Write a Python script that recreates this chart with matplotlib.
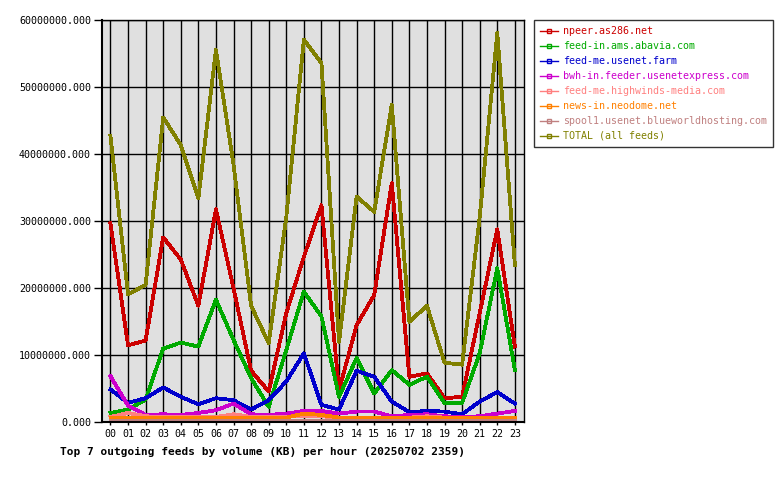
import matplotlib
matplotlib.use("Agg")
import matplotlib.pyplot as plt
from matplotlib.lines import Line2D
from matplotlib.ticker import FormatStrFormatter

# ----------------- DATA (KB per hour) -----------------
hours = [f"{h:02d}" for h in range(24)]

feed_names = [
    "npeer.as286.net",
    "feed-in.ams.abavia.com",
    "feed-me.usenet.farm",
    "bwh-in.feeder.usenetexpress.com",
    "feed-me.highwinds-media.com",
    "news-in.neodome.net",
    "spool1.usenet.blueworldhosting.com",
    "TOTAL (all feeds)",
]

npeer = [29.7, 11.5, 12.2, 27.6, 24.3, 17.4, 31.8, 20.0, 7.7, 4.6, 16.3, 24.7,
         32.4, 4.8, 14.5, 19.0, 35.7, 6.8, 7.3, 3.6, 3.8, 16.3, 28.8, 11.3]
abavia = [1.4, 1.9, 3.4, 11.0, 11.9, 11.3, 18.3, 12.3, 6.6, 2.3, 10.8, 19.5,
          15.8, 3.8, 9.6, 4.3, 7.8, 5.6, 6.8, 2.9, 2.9, 10.3, 23.0, 7.8]
usenetfarm = [4.9, 2.9, 3.6, 5.2, 3.8, 2.7, 3.6, 3.3, 1.9, 3.3, 6.1, 10.3,
              2.6, 1.9, 7.7, 6.8, 3.1, 1.5, 1.7, 1.6, 1.2, 3.1, 4.5, 2.8]
bwh = [6.9, 2.5, 1.1, 1.2, 1.1, 1.4, 1.8, 2.8, 1.2, 1.1, 1.3, 1.7,
       1.7, 1.3, 1.6, 1.6, 0.9, 1.1, 1.2, 0.9, 0.8, 0.9, 1.3, 1.7]
highwinds = [0.8, 1.4, 0.9, 0.8, 0.8, 0.8, 0.8, 1.2, 0.8, 0.8, 0.8, 1.0,
             0.9, 0.7, 0.7, 0.7, 0.7, 0.7, 0.9, 0.7, 0.7, 0.7, 0.7, 0.7]
neodome = [0.6, 0.6, 0.6, 0.6, 0.6, 0.6, 0.6, 0.6, 0.6, 0.6, 0.7, 1.3,
           1.1, 0.7, 0.6, 0.6, 0.6, 0.6, 0.6, 0.6, 0.6, 0.6, 0.6, 0.6]
blueworld = [0.3, 0.3, 0.3, 0.3, 0.3, 0.3, 0.3, 0.3, 0.3, 0.3, 0.3, 0.3,
             0.3, 0.3, 0.3, 0.3, 0.3, 0.3, 0.3, 0.3, 0.3, 0.3, 0.3, 0.3]
total = [42.8, 19.1, 20.5, 45.5, 41.4, 33.4, 55.6, 38.5, 17.4, 11.8, 30.6, 57.1,
         53.6, 12.0, 33.7, 31.4, 47.4, 15.0, 17.4, 8.9, 8.6, 30.6, 58.1, 23.5]

series = [npeer, abavia, usenetfarm, bwh, highwinds, neodome, blueworld, total]
colors = ["#cc0000", "#00aa00", "#0000cc", "#cc00cc",
          "#ff8080", "#ff8000", "#c08080", "#808000"]

# ----------------- PLOT -----------------
plt.rcParams["font.family"] = ["DejaVu Sans Mono"]

fig = plt.figure(figsize=(7.8, 4.8), dpi=100)
ax = fig.add_axes([102 / 780, 1 - 422.3 / 480, 422 / 780, 402 / 480])
ax.set_facecolor("#e0e0e0")

x = list(range(len(hours)))
for name, vals, c in zip(feed_names, series, colors):
    ax.plot(x, [v * 1e6 for v in vals], color=c, linewidth=2.0,
            antialiased=False)

ax.set_xlim(-0.48, 23.52)
ax.set_ylim(0, 60e6)
ax.set_xticks(x)
ax.set_xticklabels(hours)
ax.set_yticks([i * 10e6 for i in range(7)])
ax.yaxis.set_major_formatter(FormatStrFormatter("%.3f"))
ax.grid(True, color="black", linewidth=1.0)
ax.set_axisbelow(True)
for s in ax.spines.values():
    s.set_color("black")
    s.set_linewidth(1.0)
ax.spines["left"].set_linewidth(1.5)
ax.spines["bottom"].set_linewidth(1.5)
ax.tick_params(axis="y", length=6, width=1, labelsize=7.2, pad=2)
ax.tick_params(axis="x", length=2, width=1, labelsize=7.2, pad=3)

# legend keys: thin line with a small open square in the middle
handles = [Line2D([], [], color=c, linewidth=1.0, marker="s", markersize=3,
                  markerfacecolor="none", markeredgewidth=1.0)
           for c in colors]
leg = fig.legend(handles, feed_names, loc="upper left",
                 bbox_to_anchor=(534 / 780, 1 - 20 / 480), numpoints=1,
                 fontsize=7.2, frameon=True, fancybox=False, edgecolor="black",
                 handlelength=1.8, handletextpad=0.5, borderpad=0.6,
                 labelspacing=0.5, borderaxespad=0)
leg.get_frame().set_linewidth(1.0)
for txt, c in zip(leg.get_texts(), colors):
    txt.set_color(c)

fig.text(60 / 780, 1 - 452 / 480,
         "Top 7 outgoing feeds by volume (KB) per hour (20250702 2359)",
         fontsize=8, fontweight="bold", va="center", ha="left")

fig.savefig("out.png", dpi=100)
plt.close(fig)
